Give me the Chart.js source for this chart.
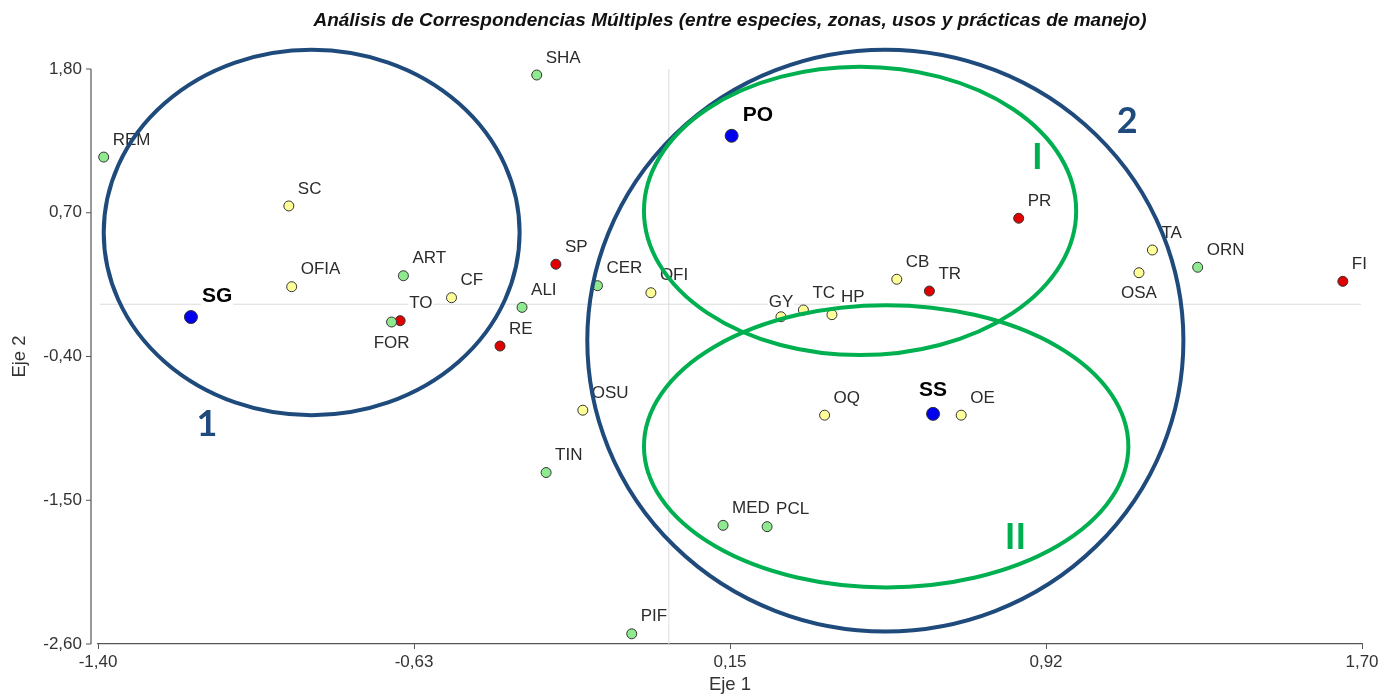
<!DOCTYPE html>
<html>
<head>
<meta charset="utf-8">
<script src="https://cdn.jsdelivr.net/npm/chart.js@4.4.0/dist/chart.umd.min.js"></script>
<style>
  html, body { margin: 0; padding: 0; background: #fff; }
  #wrap { width: 1395px; height: 694px; position: relative; }
</style>
</head>
<body>
<div id="wrap"><canvas id="acm"></canvas></div>
<script>
// especies (verde)
const especiesLabels = ['REM', 'SHA', 'ART', 'FOR', 'ALI', 'CER', 'TIN', 'PIF', 'MED', 'PCL', 'ORN'];
const especiesX = [-1.386, -0.324, -0.651, -0.680, -0.360, -0.175, -0.301, -0.091, 0.133, 0.241, 1.297];
const especiesY = [1.126, 1.754, 0.218, -0.136, -0.024, 0.142, -1.288, -2.522, -1.692, -1.702, 0.283];

// zonas (azul)
const zonasLabels = ['SG', 'PO', 'SS'];
const zonasX = [-1.172, 0.154, 0.648];
const zonasY = [-0.098, 1.289, -0.839];

// usos (amarillo)
const usosLabels = ['SC', 'OFIA', 'CF', 'OFI', 'OSU', 'GY', 'TC', 'HP', 'OQ', 'CB', 'OE', 'TA', 'OSA'];
const usosX = [-0.932, -0.925, -0.533, -0.044, -0.211, 0.275, 0.330, 0.400, 0.382, 0.559, 0.717, 1.186, 1.153];
const usosY = [0.752, 0.134, 0.050, 0.088, -0.811, -0.096, -0.044, -0.080, -0.849, 0.191, -0.849, 0.415, 0.241];

// prácticas de manejo (rojo)
const practicasLabels = ['TO', 'RE', 'SP', 'TR', 'PR', 'FI'];
const practicasX = [-0.659, -0.414, -0.277, 0.639, 0.858, 1.653];
const practicasY = [-0.126, -0.320, 0.306, 0.101, 0.658, 0.175];

const xTickValues = [-1.40, -0.625, 0.15, 0.925, 1.70];
const xTickLabels = ['-1,40', '-0,63', '0,15', '0,92', '1,70'];
const yTickValues = [-2.60, -1.50, -0.40, 0.70, 1.80];
const yTickLabels = ['-2,60', '-1,50', '-0,40', '0,70', '1,80'];

// etiquetas que no van arriba a la derecha
const labelPlacement = { FOR: 'below', OSA: 'below', GY: 'above', SS: 'above' };

// agrupaciones dibujadas a mano (en unidades de los ejes)
const grupos = [
  { cx: -0.876, cy: 0.549, rx: 0.510, ry: 1.398, color: '#1F4A7C' },
  { cx: 0.531, cy: -0.278, rx: 0.731, ry: 2.226, color: '#1F4A7C' },
  { cx: 0.469, cy: 0.714, rx: 0.530, ry: 1.103, color: '#00B050' },
  { cx: 0.533, cy: -1.087, rx: 0.594, ry: 1.080, color: '#00B050' },
];
const gruposTexto = [
  { text: '1', x: -1.133, y: -0.918, color: '#1F4A7C' },
  { text: '2', x: 1.124, y: 1.396, color: '#1F4A7C' },
  { text: 'I', x: 0.904, y: 1.127, color: '#00B050' },
  { text: 'II', x: 0.850, y: -1.784, color: '#00B050' },
];

const toPoints = (xs, ys) => xs.map((x, i) => ({ x: x, y: ys[i] }));

const FONT = '"Liberation Sans", Arial, sans-serif';

const acmPlugin = {
  id: 'acm',
  beforeDatasetsDraw(chart) {
    const { ctx, chartArea, scales } = chart;
    const x0 = scales.x.getPixelForValue(0);
    const y0 = scales.y.getPixelForValue(0);
    ctx.save();
    ctx.strokeStyle = '#dcdcdc';
    ctx.lineWidth = 1;
    ctx.beginPath();
    ctx.moveTo(chartArea.left + 2, y0);
    ctx.lineTo(chartArea.right - 1, y0);
    ctx.moveTo(x0, chartArea.top);
    ctx.lineTo(x0, chartArea.bottom);
    ctx.stroke();
    // eje y separado del eje x
    const ax = chartArea.left - 7;
    ctx.strokeStyle = '#555';
    ctx.lineWidth = 1.2;
    ctx.beginPath();
    ctx.moveTo(ax, scales.y.getPixelForValue(yTickValues[yTickValues.length - 1]));
    ctx.lineTo(ax, scales.y.getPixelForValue(yTickValues[0]));
    yTickValues.forEach(v => {
      const py = scales.y.getPixelForValue(v);
      ctx.moveTo(ax - 5, py);
      ctx.lineTo(ax, py);
    });
    ctx.stroke();
    ctx.restore();
  },
  afterDatasetsDraw(chart) {
    const { ctx } = chart;
    ctx.save();
    ctx.textBaseline = 'middle';
    chart.data.datasets.forEach((ds, di) => {
      const meta = chart.getDatasetMeta(di);
      const bold = ds.boldLabels;
      ctx.font = bold ? 'bold 21px ' + FONT : '17px ' + FONT;
      meta.data.forEach((pt, i) => {
        const txt = ds.names[i];
        const w = ctx.measureText(txt).width;
        const h = bold ? 20 : 16;
        const place = labelPlacement[txt];
        let lx, ly;
        if (place === 'below') { lx = pt.x - w / 2; ly = pt.y + 21; }
        else if (place === 'above') { lx = pt.x - w / 2; ly = pt.y - (bold ? 24 : 14); }
        else { lx = pt.x + (bold ? 11 : 9); ly = pt.y - (bold ? 21 : 17); }
        ctx.fillStyle = '#fff';
        ctx.fillRect(lx - 1, ly - h / 2, w + 2, h);
        ctx.fillStyle = bold ? '#000' : '#2b2b2b';
        ctx.textAlign = 'left';
        ctx.fillText(txt, lx, ly);
      });
    });
    ctx.restore();
  },
  afterDraw(chart) {
    const { ctx, chartArea, scales } = chart;
    ctx.save();
    ctx.lineWidth = 4;
    grupos.forEach(g => {
      const cx = scales.x.getPixelForValue(g.cx);
      const cy = scales.y.getPixelForValue(g.cy);
      const rx = Math.abs(scales.x.getPixelForValue(g.cx + g.rx) - cx);
      const ry = Math.abs(scales.y.getPixelForValue(g.cy + g.ry) - cy);
      ctx.strokeStyle = g.color;
      ctx.beginPath();
      ctx.ellipse(cx, cy, rx, ry, 0, 0, Math.PI * 2);
      ctx.stroke();
    });
    ctx.font = 'bold 36px Lato, "Open Sans", sans-serif';
    ctx.textAlign = 'center';
    ctx.textBaseline = 'middle';
    gruposTexto.forEach(t => {
      ctx.fillStyle = t.color;
      ctx.fillText(t.text, scales.x.getPixelForValue(t.x), scales.y.getPixelForValue(t.y));
    });
    // título
    ctx.fillStyle = '#111';
    ctx.font = 'italic bold 19px ' + FONT;
    ctx.textAlign = 'center';
    ctx.fillText('Análisis de Correspondencias Múltiples (entre especies, zonas, usos y prácticas de manejo)',
      (chartArea.left + chartArea.right) / 2, 21);
    ctx.restore();
  }
};

const pointStyle = (fill, r) => ({
  backgroundColor: fill,
  borderColor: '#333',
  borderWidth: 1,
  pointRadius: r,
  pointHoverRadius: r,
});

new Chart(document.getElementById('acm'), {
  type: 'scatter',
  data: {
    datasets: [
      Object.assign({ label: 'Especies', names: especiesLabels, data: toPoints(especiesX, especiesY) }, pointStyle('#8FE98F', 5)),
      Object.assign({ label: 'Usos', names: usosLabels, data: toPoints(usosX, usosY) }, pointStyle('#FFFF99', 5)),
      Object.assign({ label: 'Prácticas', names: practicasLabels, data: toPoints(practicasX, practicasY) }, pointStyle('#E00000', 5)),
      Object.assign({ label: 'Zonas', names: zonasLabels, boldLabels: true, data: toPoints(zonasX, zonasY) }, pointStyle('#0000EE', 6.5)),
    ],
  },
  options: {
    responsive: true,
    maintainAspectRatio: false,
    animation: false,
    layout: { padding: { top: 69, right: 33, left: 0, bottom: 0 } },
    plugins: {
      legend: { display: false },
      title: { display: false },
      tooltip: { enabled: false },
    },
    scales: {
      x: {
        type: 'linear',
        min: -1.40,
        max: 1.70,
        afterFit: s => { s.height = 50; },
        afterBuildTicks: s => { s.ticks = xTickValues.map(v => ({ value: v })); },
        ticks: {
          autoSkip: false,
          maxRotation: 0,
          padding: 3,
          color: '#333',
          font: { size: 17, family: FONT },
          callback: (v, i) => xTickLabels[i],
        },
        grid: { drawOnChartArea: false, drawTicks: true, tickLength: 5, color: '#555' },
        border: { display: true, color: '#555', width: 1.2 },
        title: {
          display: true,
          text: 'Eje 1',
          color: '#333',
          padding: { top: 0, bottom: 0 },
          font: { size: 18.5, family: FONT, lineHeight: 1 },
        },
      },
      y: {
        type: 'linear',
        min: -2.60,
        max: 1.80,
        afterFit: s => { s.width = 98; },
        afterBuildTicks: s => { s.ticks = yTickValues.map(v => ({ value: v })); },
        ticks: {
          autoSkip: false,
          padding: 16,
          color: '#333',
          font: { size: 17, family: FONT },
          callback: (v, i) => yTickLabels[i],
        },
        grid: { display: false, drawTicks: false },
        border: { display: false },
        title: {
          display: true,
          text: 'Eje 2',
          color: '#333',
          padding: { top: 9, bottom: 0 },
          font: { size: 18.5, family: FONT, lineHeight: 1.2 },
        },
      },
    },
  },
  plugins: [acmPlugin],
});
</script>
</body>
</html>
